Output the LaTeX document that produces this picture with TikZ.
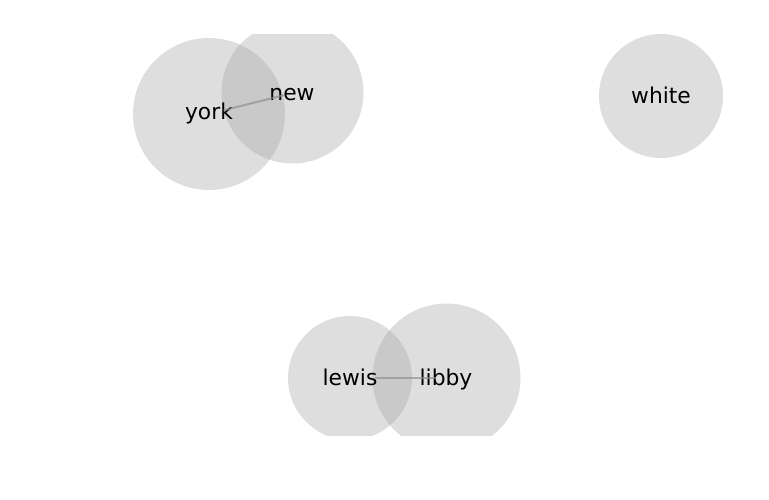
\documentclass[tikz,border=0pt]{standalone}
\usepackage{fontspec}
\setmainfont{DejaVu Sans}
\begin{document}
\begin{tikzpicture}[x=1bp,y=-1bp,
  bub/.style={circle,inner sep=0pt,draw=none,fill={rgb,255:red,156;green,156;blue,156},fill opacity=0.33},
  lab/.style={inner sep=0pt,anchor=base,text=black,font=\fontsize{21.8bp}{26bp}\selectfont},
  edge/.style={draw={rgb,255:red,140;green,140;blue,140},line width=2bp,opacity=0.65}]
\useasboundingbox (0,0) rectangle (769,500);
\begin{scope}
\clip (0,35) rectangle (769,435);
\node[bub,minimum size=152bp] (yorkc) at (209,114) {};
\node[bub,minimum size=142bp] (newc) at (292.5,92.5) {};
\node[bub,minimum size=124bp] (whitec) at (661,96) {};
\node[bub,minimum size=124bp] (lewisc) at (350,378) {};
\node[bub,minimum size=148bp] (libbyc) at (446.5,377.5) {};
\end{scope}
\node[lab] (york) at (209,119.8) {york};
\node[lab] (new) at (292,100.2) {new};
\node[lab] (white) at (661,103.2) {white};
\node[lab] (lewis) at (350,385.2) {lewis};
\node[lab] (libby) at (446,385.2) {libby};
\coordinate (yorkp) at (209,114);
\coordinate (newp) at (292.5,93);
\coordinate (lewisp) at (350,378);
\coordinate (libbyp) at (446,378);
\draw[edge,shorten <=15bp,shorten >=9bp] (yorkp) -- (newp);
\draw[edge,shorten <=25bp,shorten >=10bp] (lewisp) -- (libbyp);
\end{tikzpicture}
\end{document}
